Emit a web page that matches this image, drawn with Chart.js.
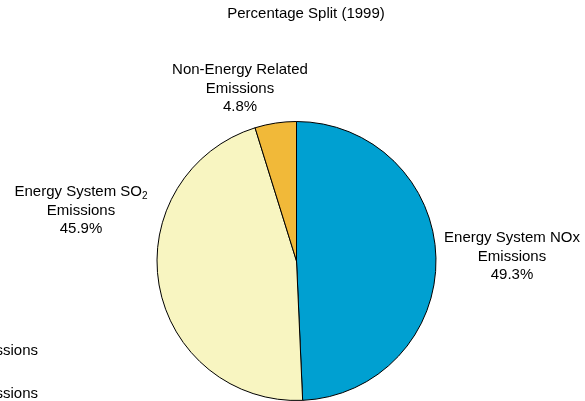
<!DOCTYPE html>
<html>
<head>
<meta charset="utf-8">
<script src="https://cdn.jsdelivr.net/npm/chart.js@4/dist/chart.umd.min.js"></script>
<style>
  html, body { margin: 0; padding: 0; background: #ffffff; }
  #wrap { width: 585px; height: 401px; position: relative; }
</style>
</head>
<body>
<div id="wrap"><canvas id="c" width="585" height="401"></canvas></div>
<script>
// Emission shares, 1999
const categories = ['Energy System NOx Emissions', 'Energy System SO2 Emissions', 'Non-Energy Related Emissions'];
const shares = [49.3, 45.9, 4.8];
const shareLabels = ['49.3%', '45.9%', '4.8%'];
const chartTitle = 'Percentage Split (1999)';

const sliceColors = ['#00a0d1', '#f8f5c1', '#f1b939'];
const FONT = '"Liberation Sans", Arial, sans-serif';
const TEXT_SIZE = 15;

// Label blocks: lines of text per slice, centre x and first-line y
const labelLines = [
  [['Energy System NOx'], ['Emissions'], [shareLabels[0]]],
  [['Energy System SO', '2'], ['Emissions'], [shareLabels[1]]],
  [['Non-Energy Related'], ['Emissions'], [shareLabels[2]]]
];
const labelPlaces = [
  { x: 512, y: 238 },
  { x: 81, y: 192 },
  { x: 240, y: 70 }
];
const LINE_GAP = 18.5;

// Legend text that runs off the left edge of the canvas
const clippedLegend = ['Energy System SO2 Emissions', 'Non-Energy Related Emissions'];

const textPlugin = {
  id: 'pieText',
  afterDraw(chart) {
    const ctx = chart.ctx;
    ctx.save();
    ctx.fillStyle = '#000000';
    ctx.textBaseline = 'middle';

    // title
    ctx.font = TEXT_SIZE + 'px ' + FONT;
    ctx.textAlign = 'center';
    ctx.fillText(chartTitle, 306, 14);

    // slice labels
    labelLines.forEach((lines, i) => {
      const p = labelPlaces[i];
      lines.forEach((parts, j) => {
        const y = p.y + j * LINE_GAP;
        ctx.font = TEXT_SIZE + 'px ' + FONT;
        const mainW = ctx.measureText(parts[0]).width;
        let subW = 0;
        if (parts[1]) {
          ctx.font = '10px ' + FONT;
          subW = ctx.measureText(parts[1]).width;
        }
        const x0 = p.x - (mainW + subW) / 2;
        ctx.textAlign = 'left';
        ctx.font = TEXT_SIZE + 'px ' + FONT;
        ctx.fillText(parts[0], x0, y);
        if (parts[1]) {
          ctx.font = '10px ' + FONT;
          ctx.fillText(parts[1], x0 + mainW, y + 4);
        }
      });
    });

    // legend entries partly outside the canvas
    ctx.font = TEXT_SIZE + 'px ' + FONT;
    ctx.textAlign = 'right';
    clippedLegend.forEach((t, i) => {
      ctx.fillText(t, 38, 351 + i * 43);
    });
    ctx.restore();
  }
};

new Chart(document.getElementById('c'), {
  type: 'pie',
  data: {
    labels: categories,
    datasets: [{
      data: shares,
      backgroundColor: sliceColors,
      borderColor: '#000000',
      borderWidth: 1
    }]
  },
  options: {
    responsive: false,
    animation: false,
    devicePixelRatio: 1,
    layout: { padding: { top: 121, bottom: 0, left: 151, right: 143 } },
    plugins: {
      legend: { display: false },
      tooltip: { enabled: false },
      title: { display: false }
    }
  },
  plugins: [textPlugin]
});
</script>
</body>
</html>
